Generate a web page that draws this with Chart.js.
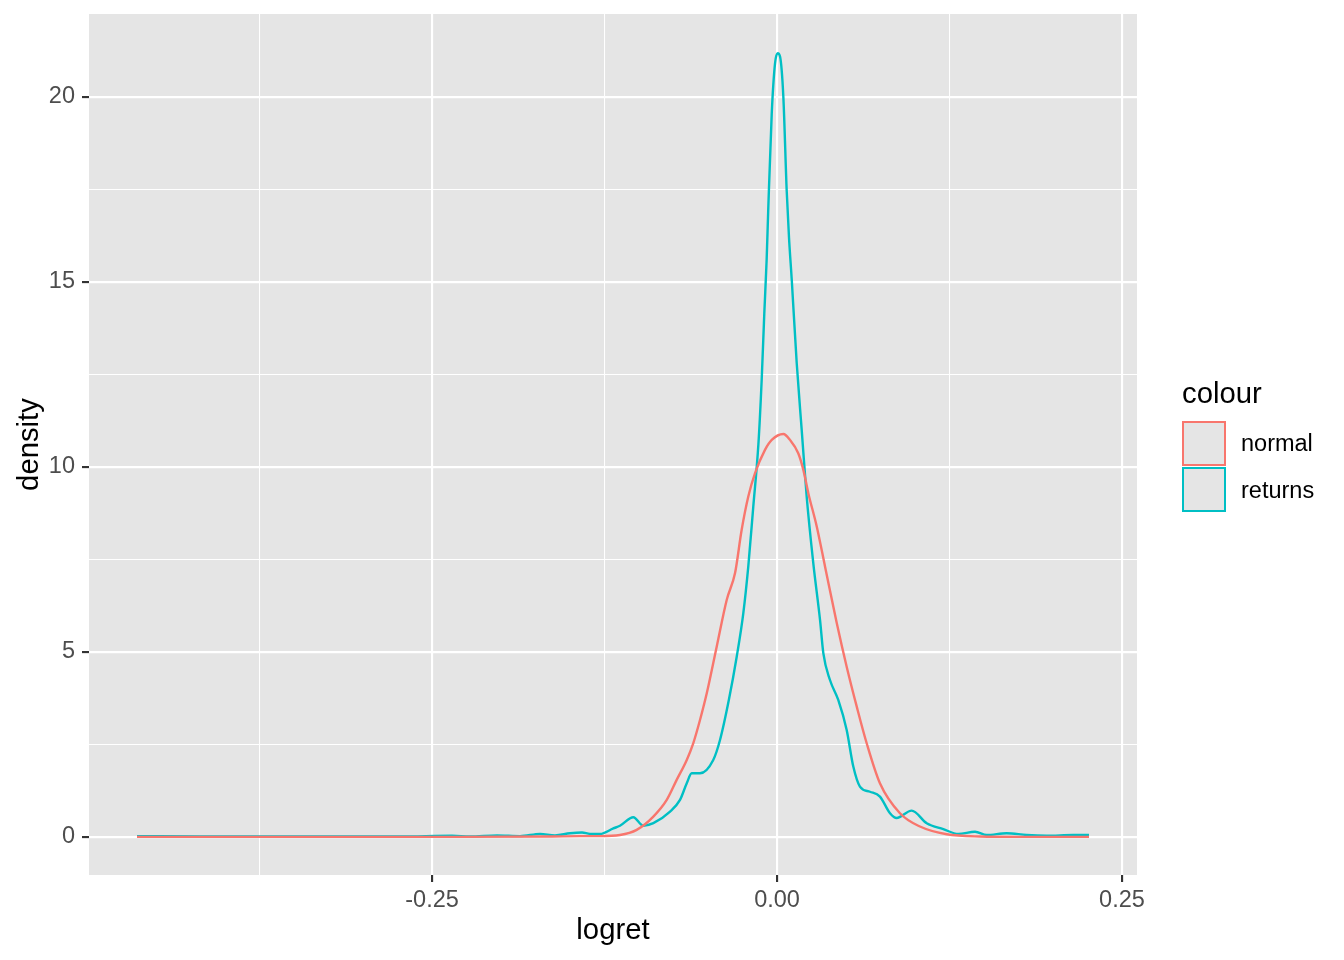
<!DOCTYPE html>
<html><head><meta charset="utf-8">
<script src="https://cdn.jsdelivr.net/npm/chart.js@4.4.1/dist/chart.umd.min.js"></script>
<style>
html,body{margin:0;padding:0;background:#fff;}
#wrap{position:relative;width:1344px;height:960px;overflow:hidden;}
#c{position:absolute;left:0;top:0;}
.leg{position:absolute;font-family:"Liberation Sans",Arial,sans-serif;color:#000;white-space:nowrap;line-height:1;}
.key{position:absolute;box-sizing:border-box;background:#E5E5E5;}
</style></head><body>
<div id="wrap"><canvas id="c" width="1344" height="960"></canvas></div>
<script>
// ---- data ----
const seriesNames = ['normal', 'returns'];
const seriesColors = ['#F8766D', '#00BFC4'];

const normalX = [-0.4638,-0.3457,-0.2370,-0.1645,-0.1428,-0.1283,-0.1138,-0.1017,-0.0896,-0.0799,-0.0727,-0.0654,-0.0607,-0.0558,-0.0509,-0.0437,-0.0364,-0.0304,-0.0256,-0.0208,-0.0159,-0.0087,-0.0038,0.0046,0.0094,0.0154,0.0191,0.0227,0.0288,0.0348,0.0433,0.0505,0.0578,0.0650,0.0746,0.0891,0.1036,0.1230,0.1471,0.1761,0.2261];
const normalY = [0,0,0,0.01,0.02,0.02,0.05,0.19,0.55,1.00,1.54,2.08,2.53,3.16,3.88,5.14,6.41,7.13,8.30,9.20,9.83,10.46,10.73,10.89,10.73,10.37,9.92,9.29,8.39,7.31,5.78,4.60,3.52,2.53,1.45,0.64,0.28,0.07,0.01,0,0];

const returnsX = [-0.4638,-0.4174,-0.3457,-0.2732,-0.2355,-0.2225,-0.2029,-0.1862,-0.1717,-0.1609,-0.1500,-0.1413,-0.1355,-0.1283,-0.1186,-0.1138,-0.1041,-0.0969,-0.0896,-0.0775,-0.0703,-0.0654,-0.0618,-0.0558,-0.0462,-0.0413,-0.0348,-0.0292,-0.0244,-0.0208,-0.0172,-0.0135,-0.0111,-0.0092,-0.0075,-0.0063,-0.0038,-0.0014,0.0005,0.0022,0.0046,0.0070,0.0087,0.0107,0.0143,0.0179,0.0215,0.0263,0.0312,0.0336,0.0384,0.0444,0.0505,0.0553,0.0601,0.0674,0.0746,0.0819,0.0867,0.0976,0.1085,0.1205,0.1314,0.1435,0.1520,0.1664,0.1809,0.1954,0.2145,0.2261];
const returnsY = [0.02,0.01,0.01,0.01,0.03,0.01,0.04,0.02,0.08,0.04,0.10,0.12,0.08,0.08,0.23,0.30,0.53,0.30,0.37,0.68,1.00,1.45,1.72,1.72,2.08,2.62,3.72,4.87,6.05,7.31,8.92,10.60,12.35,14.15,15.60,17.00,19.56,20.91,21.18,21.09,20.00,17.49,16.20,15.05,12.80,11.00,9.20,7.40,5.86,4.96,4.24,3.70,2.89,1.90,1.36,1.22,1.09,0.64,0.51,0.71,0.37,0.21,0.08,0.14,0.05,0.10,0.05,0.03,0.05,0.05];

const xMajor = [-0.25, 0, 0.25];
const xMinor = [-0.375, -0.125, 0.125];
const xTickLabels = ['-0.25', '0.00', '0.25'];
const yMajor = [0, 5, 10, 15, 20];
const yMinor = [2.5, 7.5, 12.5, 17.5];
const yTickLabels = ['0', '5', '10', '15', '20'];
const xRange = [-0.4986, 0.2609];
const yRange = [-1.03, 22.24];

// ---- chart ----
const FONT = '"Liberation Sans", Arial, sans-serif';
const pts = (xs, ys) => xs.map((x, i) => ({x: x, y: ys[i]}));
const isIn = (arr, v) => arr.some(a => Math.abs(a - v) < 1e-9);

const panelBg = {
  id: 'panelBg',
  beforeDraw(chart) {
    const {ctx, chartArea: a} = chart;
    ctx.save();
    ctx.fillStyle = '#E5E5E5';
    ctx.fillRect(a.left, a.top, a.right - a.left, a.bottom - a.top);
    ctx.restore();
  }
};

function axis(major, minor, labels, range, title, isX) {
  return {
    type: 'linear',
    min: range[0], max: range[1],
    afterBuildTicks: s => { s.ticks = major.concat(minor).sort((a, b) => a - b).map(v => ({value: v})); },
    afterFit: s => {
      if (isX) { s.height = 85; s.paddingLeft = 0; s.paddingRight = 0; }
      else { s.width = 89; s.paddingTop = 0; s.paddingBottom = 0; }
    },
    border: {display: false},
    grid: {
      color: '#FFFFFF',
      lineWidth: c => isIn(major, c.tick.value) ? 2.13 : 1.07,
      tickColor: c => isIn(major, c.tick.value) ? '#333333' : 'rgba(0,0,0,0)',
      tickLength: 7,
      tickWidth: 2.13
    },
    ticks: {
      autoSkip: false, maxRotation: 0, minRotation: 0,
      padding: isX ? 4 : 7,
      color: '#4D4D4D',
      font: {family: FONT, size: 23.5},
      callback: v => { const i = major.findIndex(m => Math.abs(m - v) < 1e-9); return i >= 0 ? labels[i] : ''; }
    },
    title: {
      display: true, text: title, color: '#000000',
      font: {family: FONT, size: 29.3},
      padding: isX ? {top: 0, bottom: 12} : {top: 12, bottom: 0}
    }
  };
}

new Chart(document.getElementById('c'), {
  type: 'scatter',
  data: {
    datasets: [
      {label: seriesNames[0], data: pts(normalX, normalY), borderColor: seriesColors[0]},
      {label: seriesNames[1], data: pts(returnsX, returnsY), borderColor: seriesColors[1]}
    ].map(d => Object.assign(d, {showLine: true, pointRadius: 0, borderWidth: 2.4, cubicInterpolationMode: 'monotone', fill: false}))
  },
  options: {
    responsive: false, animation: false, devicePixelRatio: 1,
    layout: {padding: {left: 0, top: 14, right: 207, bottom: 0}},
    plugins: {legend: {display: false}, tooltip: {enabled: false}},
    scales: {
      x: axis(xMajor, xMinor, xTickLabels, xRange, 'logret', true),
      y: axis(yMajor, yMinor, yTickLabels, yRange, 'density', false)
    }
  },
  plugins: [panelBg]
});

// ---- legend (HTML) ----
const wrap = document.getElementById('wrap');
const t = document.createElement('div');
t.className = 'leg'; t.textContent = 'colour';
t.style.cssText = 'left:1182px;top:378px;font-size:29.3px;';
wrap.appendChild(t);
seriesNames.forEach((n, i) => {
  const k = document.createElement('div');
  k.className = 'key';
  k.style.cssText = `left:1182px;top:${421 + i * 46}px;width:44px;height:45px;border:2.2px solid ${seriesColors[i]};`;
  wrap.appendChild(k);
  const l = document.createElement('div');
  l.className = 'leg'; l.textContent = n;
  l.style.cssText = `left:1241px;top:${432 + i * 46.5}px;font-size:23.5px;`;
  wrap.appendChild(l);
});
</script>
</body></html>
